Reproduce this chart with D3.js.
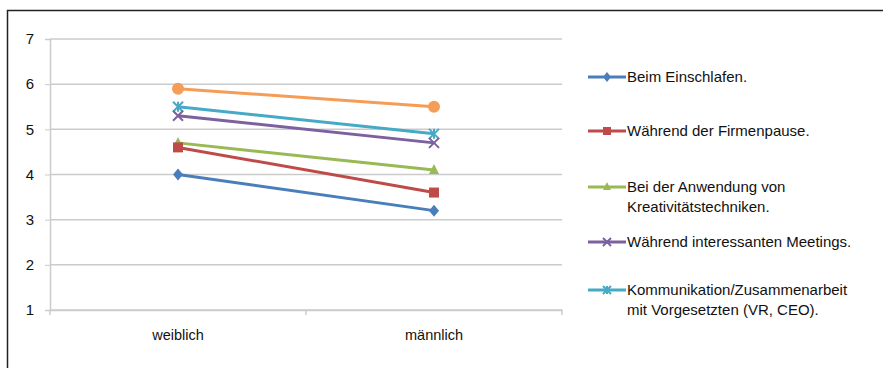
<!DOCTYPE html>
<html><head><meta charset="utf-8">
<script src="https://cdn.jsdelivr.net/npm/d3@7"></script>
<style>body{margin:0;background:#fff}svg{display:block}text{font-family:"Liberation Sans",Arial,sans-serif}</style>
</head><body>
<svg id="c" width="883" height="368"></svg>
<script>
const categories = ["weiblich", "männlich"];
const yTicks = [1, 2, 3, 4, 5, 6, 7];
const seriesNames = [
  "Beim Einschlafen.",
  "Während der Firmenpause.",
  "Bei der Anwendung von Kreativitätstechniken.",
  "Während interessanten Meetings.",
  "Kommunikation/Zusammenarbeit mit Vorgesetzten (VR, CEO).",
  "Sonstige"
];
const legendLines = [
  ["Beim Einschlafen."],
  ["Während der Firmenpause."],
  ["Bei der Anwendung von", "Kreativitätstechniken."],
  ["Während interessanten Meetings."],
  ["Kommunikation/Zusammenarbeit", "mit Vorgesetzten (VR, CEO)."]
];
const einschlafen = [4.0, 3.2];
const firmenpause = [4.6, 3.6];
const kreativ = [4.7, 4.1];
const meetings = [5.3, 4.7];
const kommunikation = [5.5, 4.9];
const sonstige = [5.9, 5.5];
const seriesValues = [einschlafen, firmenpause, kreativ, meetings, kommunikation, sonstige];
const colors = ["#4A7EBB", "#BE4B48", "#98B954", "#7D60A0", "#46AAC5", "#F59D56"];
const markers = ["diamond", "square", "triangle", "x", "star", "circle"];

const svg = d3.select("#c");
svg.append("path").attr("d", "M7.5,368 V10.5 H883").attr("fill", "none").attr("stroke", "#222").attr("stroke-width", 1.5);

const x = d3.scaleBand().domain(categories).range([50, 562]);
const y = d3.scaleLinear().domain([1, 7]).range([310, 39]);

svg.append("g").selectAll("line").data(yTicks).join("line")
  .attr("x1", 50).attr("x2", 562)
  .attr("y1", d => y(d)).attr("y2", d => y(d))
  .attr("stroke", "#cbcbcb").attr("stroke-width", 1.5);

const ya = svg.append("g").attr("transform", "translate(50,0)")
  .call(d3.axisLeft(y).tickValues(yTicks).tickFormat(d3.format("d")).tickSize(5).tickPadding(11));
ya.select(".domain").attr("stroke", "#cbcbcb").attr("stroke-width", 1.5);
ya.selectAll(".tick line").attr("stroke", "#cbcbcb");
ya.selectAll("text").attr("font-size", 15).attr("fill", "#111").attr("font-family", "Liberation Sans, Arial, sans-serif");

const xa = svg.append("g").attr("transform", "translate(0,310)")
  .call(d3.axisBottom(x).tickSize(0).tickPadding(20));
xa.select(".domain").attr("stroke", "#cbcbcb").attr("stroke-width", 1.5);
xa.selectAll("text").attr("font-size", 14.5).attr("fill", "#111").attr("font-family", "Liberation Sans, Arial, sans-serif");
const edges = [x.range()[0], x(categories[1]), x.range()[1]];
svg.append("g").selectAll("line").data(edges).join("line")
  .attr("x1", d => d).attr("x2", d => d).attr("y1", 310).attr("y2", 315)
  .attr("stroke", "#cbcbcb").attr("stroke-width", 1.5);

const cx = c => x(c) + x.bandwidth() / 2;

function drawMarker(g, type, px, py, color, s) {
  if (type === "circle") {
    g.append("circle").attr("cx", px).attr("cy", py).attr("r", s).attr("fill", color);
  } else if (type === "square") {
    g.append("rect").attr("x", px - s).attr("y", py - s).attr("width", 2 * s).attr("height", 2 * s).attr("fill", color);
  } else if (type === "diamond") {
    g.append("path").attr("d", `M${px},${py - s - 1}L${px + s},${py}L${px},${py + s + 1}L${px - s},${py}Z`).attr("fill", color);
  } else if (type === "triangle") {
    g.append("path").attr("d", `M${px},${py - s - 1}L${px + s},${py + s - 1}L${px - s},${py + s - 1}Z`).attr("fill", color);
  } else if (type === "x") {
    g.append("path").attr("d", `M${px - s},${py - s}L${px + s},${py + s}M${px - s},${py + s}L${px + s},${py - s}`).attr("stroke", color).attr("stroke-width", 2);
  } else if (type === "star") {
    g.append("path").attr("d", `M${px - s},${py - s}L${px + s},${py + s}M${px - s},${py + s}L${px + s},${py - s}M${px},${py - s}L${px},${py + s}`).attr("stroke", color).attr("stroke-width", 2);
  }
}

const line = d3.line().x((d, i) => cx(categories[i])).y(d => y(d));
const order = d3.range(seriesValues.length).reverse();
order.forEach(i => {
  const g = svg.append("g");
  g.append("path").datum(seriesValues[i]).attr("d", line)
    .attr("fill", "none").attr("stroke", colors[i]).attr("stroke-width", 3);
  seriesValues[i].forEach((v, j) => drawMarker(g, markers[i], cx(categories[j]), y(v), colors[i], markers[i] === "circle" ? 6 : 5));
});

const legendY = [77, 131, 187, 242, 290];
legendLines.forEach((lines, i) => {
  const g = svg.append("g");
  const ly = legendY[i];
  g.append("line").attr("x1", 588).attr("x2", 626).attr("y1", ly).attr("y2", ly)
    .attr("stroke", colors[i]).attr("stroke-width", 3);
  drawMarker(g, markers[i], 607, ly, colors[i], 4);
  lines.forEach((t, k) => {
    g.append("text").attr("x", 627).attr("y", ly + 5 + k * 19.5)
      .attr("font-size", 15).attr("fill", "#111").text(t);
  });
});
</script>
</body></html>
